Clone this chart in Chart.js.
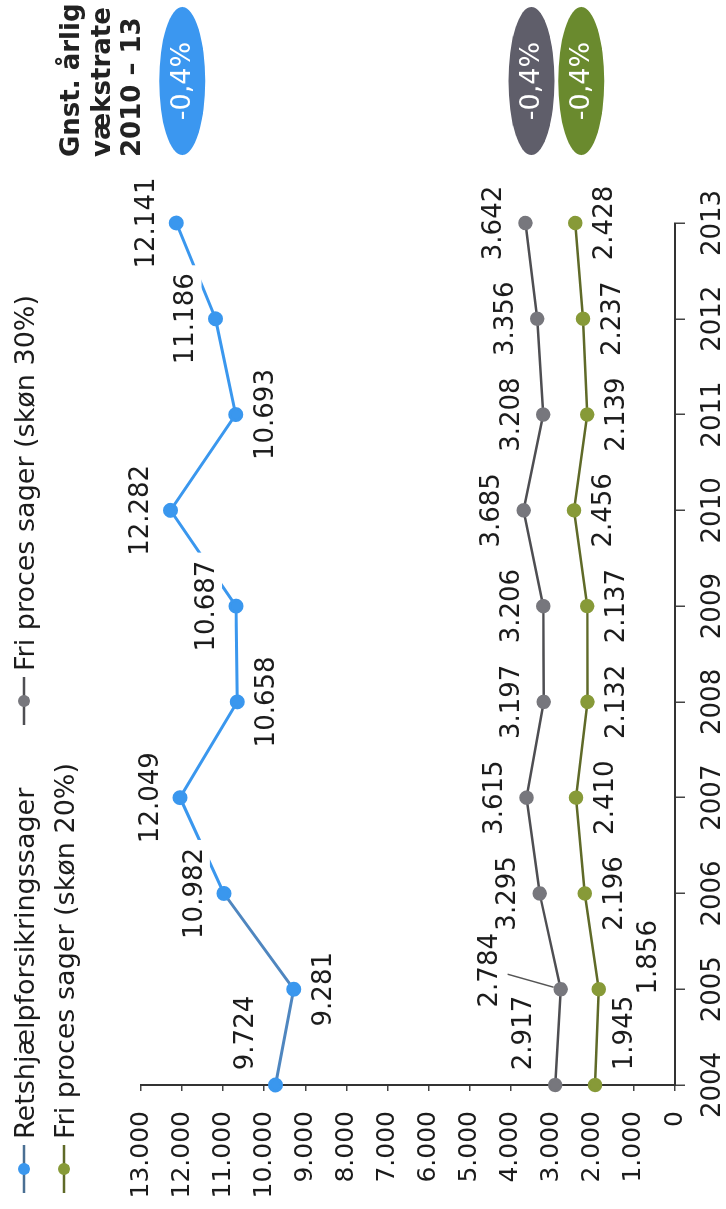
<!DOCTYPE html>
<html>
<head>
<meta charset="utf-8">
<style>
html,body{margin:0;padding:0;background:#fff;overflow:hidden;width:726px;height:1209px;}
#wrap{position:absolute;left:0;top:0;width:1209px;height:726px;transform-origin:0 0;transform:translate(0,1209px) rotate(-90deg);}
canvas{display:block;}
</style>
<script src="https://cdn.jsdelivr.net/npm/chart.js@4/dist/chart.umd.min.js"></script>
</head>
<body>
<div id="wrap"><canvas id="c" width="1209" height="726"></canvas></div>
<script>
// ---- data ----
const years = ['2004','2005','2006','2007','2008','2009','2010','2011','2012','2013'];
const retshjaelp  = [9724, 9281, 10982, 12049, 10658, 10687, 12282, 10693, 11186, 12141];
const friProces30 = [2917, 2784, 3295, 3615, 3197, 3206, 3685, 3208, 3356, 3642];
const friProces20 = [1945, 1856, 2196, 2410, 2132, 2137, 2456, 2139, 2237, 2428];
const seriesNames = ['Retshjælpforsikringssager', 'Fri proces sager (skøn 30%)', 'Fri proces sager (skøn 20%)'];
const growthRates = ['-0,4%', '-0,4%', '-0,4%'];
const growthTitle = ['Gnst. årlig', 'vækstrate', '2010 – 13'];
const yMin = 0, yMax = 13000, yStep = 1000;

// label side per point (up = above point, down = below point)
const labelSide = [
  ['up','down','up','up','down','up','up','down','up','up'],
  ['up','up','up','up','up','up','up','up','up','up'],
  ['down','down','down','down','down','down','down','down','down','down']
];

// ---- styles ----
const FONT = '"DejaVu Sans", Verdana, sans-serif';
const lineColors  = ['#3a97ee', '#4e4e52', '#5f6a28'];
const pointColors = ['#3a97ee', '#77777d', '#879a38'];
const ellipseColors = ['#3b97f0', '#5f5e6a', '#6a8a2e'];
const textColor = '#1c1c1c';

function fmt(v){ return String(v).replace(/\B(?=(\d{3})+(?!\d))/g, '.'); }

Chart.defaults.font.family = FONT;

const dataLabels = {
  id: 'dataLabels',
  afterDatasetsDraw(chart){
    const ctx = chart.ctx;
    ctx.save();
    ctx.font = '26px ' + FONT;
    const items = [];
    chart.data.datasets.forEach((ds, i) => {
      const meta = chart.getDatasetMeta(i);
      meta.data.forEach((pt, j) => {
        const side = labelSide[i][j];
        let dx = j === 0 ? 52 : 0;
        let dy = side === 'up' ? (i === 0 ? -29 : -31) : 30;
        let leader = false;
        if (i === 1 && j === 1) { dx = 19; dy = -70; leader = true; }
        if (i === 2 && j === 1) { dx = 32; dy = 50; }
        items.push({ text: fmt(ds.data[j]), x: pt.x + dx, y: pt.y + dy, px: pt.x, py: pt.y, leader, box: (i === 0 && j > 0) });
      });
    });
    ctx.fillStyle = '#ffffff';
    items.forEach(it => {
      if (!it.box) return;
      const w = ctx.measureText(it.text).width + 16;
      ctx.fillRect(it.x - w / 2, it.y - 15, w, 30);
    });
    items.forEach(it => {
      if (!it.leader) return;
      ctx.strokeStyle = '#555';
      ctx.lineWidth = 1.5;
      ctx.beginPath();
      ctx.moveTo(it.x - 4, it.y + 17);
      ctx.lineTo(it.px + 2, it.py - 7);
      ctx.stroke();
    });
    ctx.fillStyle = textColor;
    ctx.textAlign = 'center';
    ctx.textBaseline = 'middle';
    items.forEach(it => ctx.fillText(it.text, it.x, it.y));
    ctx.restore();
  }
};

const extras = {
  id: 'extras',
  afterDraw(chart){
    const ctx = chart.ctx;
    const area = chart.chartArea;
    const ys = chart.scales.y;
    ctx.save();
    // custom legend
    const legendItems = [
      { ds: 0, x: 16, y: 24 },
      { ds: 1, x: 484, y: 24 },
      { ds: 2, x: 16, y: 64 }
    ];
    legendItems.forEach(li => {
      ctx.strokeStyle = li.ds === 0 ? '#4a6f93' : lineColors[li.ds];
      ctx.lineWidth = 2.5;
      ctx.beginPath();
      ctx.moveTo(li.x, li.y);
      ctx.lineTo(li.x + 48, li.y);
      ctx.stroke();
      ctx.fillStyle = pointColors[li.ds];
      ctx.beginPath();
      ctx.arc(li.x + 24, li.y, 6, 0, Math.PI * 2);
      ctx.fill();
      ctx.fillStyle = textColor;
      ctx.font = '27px ' + FONT;
      ctx.textAlign = 'left';
      ctx.textBaseline = 'alphabetic';
      ctx.fillText(seriesNames[li.ds], li.x + 54, li.y + 9.5);
    });
    // growth title
    ctx.font = 'bold 26px ' + FONT;
    ctx.fillStyle = '#222';
    ctx.textAlign = 'left';
    ctx.textBaseline = 'alphabetic';
    const tx = area.right + 66;
    [79, 110, 140].forEach((by, k) => ctx.fillText(growthTitle[k], tx, by));
    // growth ellipses
    chart.data.datasets.forEach((ds, i) => {
      const last = ds.data[ds.data.length - 1];
      const cx = area.right + 142;
      const cy = ys.getPixelForValue(last) + 6;
      ctx.fillStyle = ellipseColors[i];
      ctx.beginPath();
      ctx.ellipse(cx, cy, 74, 23, 0, 0, Math.PI * 2);
      ctx.fill();
      ctx.fillStyle = '#ffffff';
      ctx.font = '27px ' + FONT;
      ctx.textAlign = 'center';
      ctx.textBaseline = 'middle';
      ctx.fillText(growthRates[i], cx, cy + 1);
    });
    ctx.restore();
  }
};

const series = [retshjaelp, friProces30, friProces20];
new Chart(document.getElementById('c'), {
  type: 'line',
  data: {
    labels: years,
    datasets: series.map((d, i) => ({
      label: seriesNames[i],
      data: d,
      borderColor: lineColors[i],
      backgroundColor: pointColors[i],
      pointBackgroundColor: pointColors[i],
      pointBorderColor: pointColors[i],
      pointRadius: 6,
      pointHoverRadius: 6,
      borderWidth: i === 0 ? 3 : 2.5,
      tension: 0,
      fill: false,
      segment: i === 0 ? { borderColor: c => c.p0DataIndex < 2 ? '#4f86bf' : undefined } : undefined
    }))
  },
  options: {
    responsive: false,
    animation: false,
    devicePixelRatio: 1,
    events: [],
    layout: { padding: { left: 0, right: 223, top: 141, bottom: 0 } },
    plugins: { legend: { display: false }, tooltip: { enabled: false } },
    scales: {
      x: {
        type: 'category',
        offset: false,
        grid: { display: true, drawOnChartArea: false, drawTicks: true, tickLength: 10, color: '#444', lineWidth: 1.5 },
        border: { display: true, color: '#333', width: 2 },
        ticks: { font: { size: 26, family: FONT }, color: textColor, padding: 13, maxRotation: 0, autoSkip: false },
        afterFit(s){ s.height = 51; }
      },
      y: {
        min: yMin, max: yMax,
        grid: { display: true, drawOnChartArea: false, drawTicks: true, tickLength: 6, color: '#444', lineWidth: 1.5 },
        border: { display: true, color: '#333', width: 2 },
        ticks: { stepSize: yStep, autoSkip: false, font: { size: 25, family: FONT }, color: textColor, padding: 20, callback: v => fmt(v) },
        afterFit(s){ s.width = 124; }
      }
    }
  },
  plugins: [dataLabels, extras]
});
</script>
</body>
</html>
